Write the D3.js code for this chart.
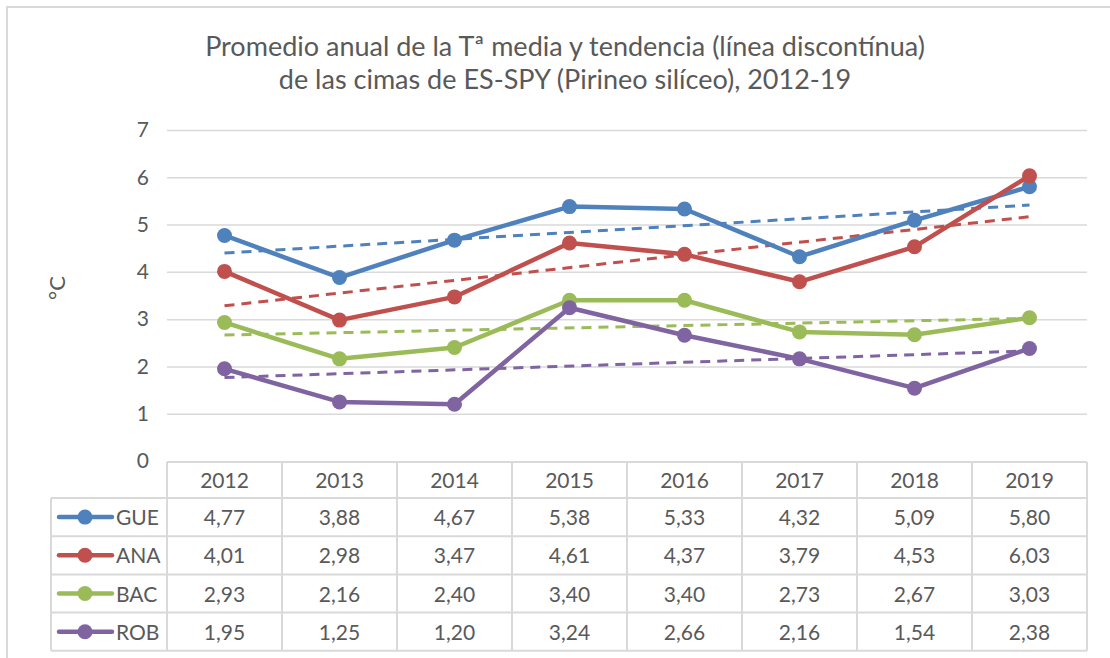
<!DOCTYPE html>
<html>
<head>
<meta charset="utf-8">
<script src="https://cdn.jsdelivr.net/npm/d3@7"></script>
<style>
  body { margin: 0; background: #fff; }
  svg { display: block; font-family: Lato, "Open Sans", sans-serif; }
</style>
</head>
<body>
<div id="container"></div>
<script>
// data
var years = ["2012", "2013", "2014", "2015", "2016", "2017", "2018", "2019"];
var seriesNames = ["GUE", "ANA", "BAC", "ROB"];
var gue = [4.77, 3.88, 4.67, 5.38, 5.33, 4.32, 5.09, 5.80];
var ana = [4.01, 2.98, 3.47, 4.61, 4.37, 3.79, 4.53, 6.03];
var bac = [2.93, 2.16, 2.40, 3.40, 3.40, 2.73, 2.67, 3.03];
var rob = [1.95, 1.25, 1.20, 3.24, 2.66, 2.16, 1.54, 2.38];
var yTicks = [0, 1, 2, 3, 4, 5, 6, 7];
var colors = ["#4F81BD", "#C0504D", "#9BBB59", "#8064A2"];

var series = [gue, ana, bac, rob].map(function(v, i) {
    return {name: seriesNames[i], values: v, color: colors[i]};
});

var W = 1110, H = 658;
var margin = {left: 167, right: 23, top: 130, bottom: 197};
var textColor = "#595959", gridColor = "#d9d9d9";

var svg = d3.select("#container").append("svg")
    .attr("width", W)
    .attr("height", H);

// chart frame (only top and left edges show in the picture)
svg.append("path")
    .attr("d", "M7," + H + "V7H" + W)
    .attr("fill", "none")
    .attr("stroke", gridColor)
    .attr("stroke-width", 2);

var x = d3.scaleBand()
    .domain(years)
    .range([margin.left, W - margin.right]);

var y = d3.scaleLinear()
    .domain([0, 7])
    .range([461, 130]);

// title
var title = svg.append("text")
    .attr("text-anchor", "middle")
    .attr("fill", textColor)
    .style("font-size", "27px");
title.append("tspan").attr("x", 565).attr("y", 56)
    .text("Promedio anual de la Tª media y tendencia (línea discontínua)");
title.append("tspan").attr("x", 565).attr("y", 89)
    .text("de las cimas de ES-SPY (Pirineo silíceo), 2012-19");

// gridlines + y axis
var yAxis = d3.axisLeft(y)
    .tickValues(yTicks)
    .tickSize(-(x.range()[1] - x.range()[0]))
    .tickPadding(18)
    .tickFormat(d3.format("d"));

var gy = svg.append("g")
    .attr("transform", "translate(" + margin.left + ",0)")
    .call(yAxis);
gy.select(".domain").remove();
gy.selectAll(".tick line")
    .attr("stroke", gridColor)
    .attr("stroke-width", 1.5)
    .filter(function(d) { return d === 0; }).remove();
gy.selectAll(".tick text")
    .attr("fill", textColor)
    .style("font-size", "21px")
    .style("font-family", "Lato, 'Open Sans', sans-serif");

svg.append("text")
    .attr("transform", "translate(65,288) rotate(-90)")
    .attr("text-anchor", "middle")
    .attr("fill", textColor)
    .style("font-size", "22px")
    .text("°C");

// linear trend (least squares, as the spreadsheet does)
function trend(vals) {
    var n = vals.length, xm = (n - 1) / 2, ym = d3.mean(vals);
    var sxy = 0, sxx = 0;
    vals.forEach(function(v, i) { sxy += (i - xm) * (v - ym); sxx += (i - xm) * (i - xm); });
    var b = sxy / sxx, a = ym - b * xm;
    return [[0, a], [n - 1, a + b * (n - 1)]];
}

var cx = function(i) { return x(years[i]) + x.bandwidth() / 2; };

var line = d3.line()
    .x(function(d, i) { return cx(i); })
    .y(function(d) { return y(d); });

var tLine = d3.line()
    .x(function(d) { return cx(d[0]); })
    .y(function(d) { return y(d[1]); });

var plot = svg.append("g");

// dashed trends under the data lines
series.forEach(function(s) {
    plot.append("path")
        .attr("d", tLine(trend(s.values)))
        .attr("fill", "none")
        .attr("stroke", s.color)
        .attr("stroke-width", 3)
        .attr("stroke-dasharray", "10,7");
});

series.forEach(function(s) {
    var g = plot.append("g");
    g.append("path")
        .attr("d", line(s.values))
        .attr("fill", "none")
        .attr("stroke", s.color)
        .attr("stroke-width", 4.5)
        .attr("stroke-linejoin", "round");
    g.selectAll("circle")
        .data(s.values)
        .enter().append("circle")
        .attr("cx", function(d, i) { return cx(i); })
        .attr("cy", function(d) { return y(d); })
        .attr("r", 7.5)
        .attr("fill", s.color);
});

// data table
var rowTop = 462, headH = 36, rowH = 38.2;
var legendX = 51;
var tbl = svg.append("g")
    .attr("fill", "none")
    .attr("stroke", gridColor)
    .attr("stroke-width", 2);

var x0 = margin.left, x1 = W - margin.right;
var tblBottom = rowTop + headH + rowH * series.length;
// horizontal lines
tbl.append("line").attr("x1", x0).attr("x2", x1).attr("y1", rowTop).attr("y2", rowTop);
d3.range(series.length + 1).forEach(function(r) {
    var yy = rowTop + headH + r * rowH;
    tbl.append("line").attr("x1", legendX).attr("x2", x1).attr("y1", yy).attr("y2", yy);
});
// vertical lines
years.forEach(function(yr) {
    tbl.append("line").attr("x1", x(yr)).attr("x2", x(yr)).attr("y1", rowTop).attr("y2", tblBottom);
});
tbl.append("line").attr("x1", x1).attr("x2", x1).attr("y1", rowTop).attr("y2", tblBottom);
tbl.append("line").attr("x1", legendX).attr("x2", legendX).attr("y1", rowTop + headH).attr("y2", tblBottom);

var txt = svg.append("g")
    .attr("fill", textColor)
    .style("font-size", "21px");

years.forEach(function(yr) {
    txt.append("text")
        .attr("x", x(yr) + x.bandwidth() / 2)
        .attr("y", rowTop + headH / 2 + 8)
        .attr("text-anchor", "middle")
        .text(yr);
});

var fmt = function(v) { return d3.format(".2f")(v).replace(".", ","); };

series.forEach(function(s, r) {
    var ym = rowTop + headH + r * rowH + rowH / 2;
    // legend key
    svg.append("line")
        .attr("x1", 59).attr("x2", 112)
        .attr("y1", ym).attr("y2", ym)
        .attr("stroke", s.color)
        .attr("stroke-width", 4.5)
        .attr("stroke-linecap", "round");
    svg.append("circle")
        .attr("cx", 85).attr("cy", ym).attr("r", 7.5)
        .attr("fill", s.color);
    txt.append("text")
        .attr("x", 116).attr("y", ym + 8)
        .text(s.name);
    s.values.forEach(function(v, i) {
        txt.append("text")
            .attr("x", cx(i))
            .attr("y", ym + 8)
            .attr("text-anchor", "middle")
            .text(fmt(v));
    });
});
</script>
</body>
</html>
